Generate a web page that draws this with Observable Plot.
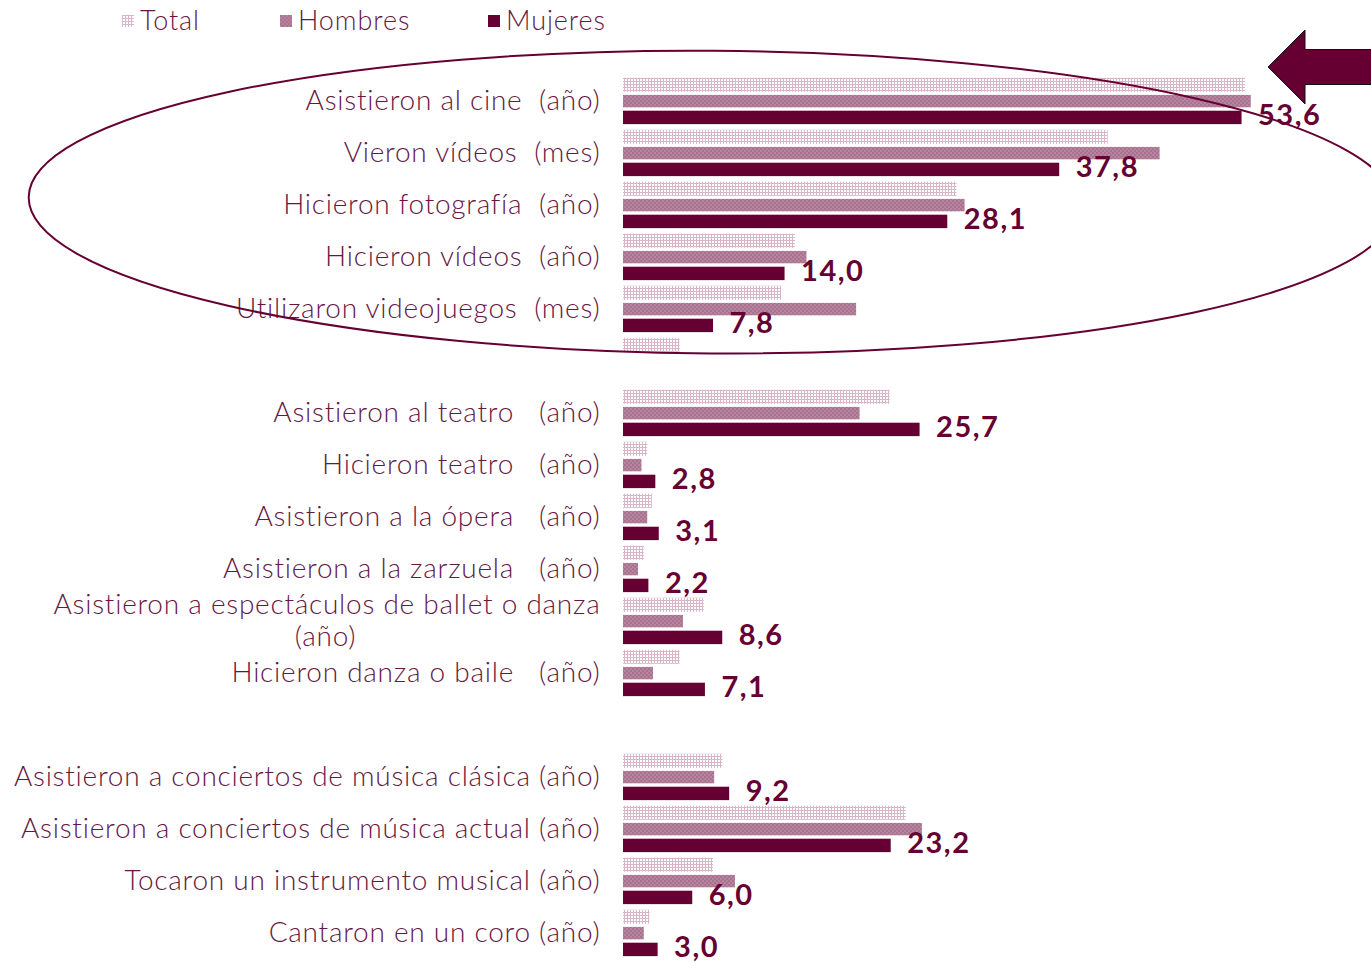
<!DOCTYPE html>
<html><head><meta charset="utf-8">
<script src="https://cdn.jsdelivr.net/npm/d3@7"></script>
<script src="https://cdn.jsdelivr.net/npm/@observablehq/plot@0.6"></script>
<style>
html,body{margin:0;padding:0;background:#fff;}
#wrap{position:relative;width:1371px;height:963px;overflow:hidden;}
#legend{position:absolute;left:0;top:0;height:40px;width:700px;font-family:Lato,sans-serif;font-weight:300;font-size:27px;letter-spacing:0.9px;color:#651843;}
.item{position:absolute;top:5px;height:30px;line-height:30px;white-space:nowrap;}
.item svg{vertical-align:middle;margin-right:6px;position:relative;top:-2px}
#chart svg text{white-space:pre;}
#chart svg .lab text{letter-spacing:0.75px;}
#chart svg .val text{letter-spacing:1.5px;}
</style></head><body>
<svg width="0" height="0" style="position:absolute">
<defs>
<pattern id="pTotal" width="3" height="3" patternUnits="userSpaceOnUse">
 <rect width="3" height="3" fill="#ffffff"/>
 <rect width="3" height="1" fill="#d9b6c7"/>
 <rect width="1" height="3" fill="#d9b6c7"/>
</pattern>
<pattern id="pHombres" width="4" height="4" patternUnits="userSpaceOnUse">
 <rect width="4" height="4" fill="#b7849f"/>
 <rect width="2" height="2" fill="#a9728f"/>
 <rect x="2" y="2" width="2" height="2" fill="#a9728f"/>
</pattern>
</defs></svg>
<div id="wrap"><div id="chart"></div><div id="legend"></div></div>
<script>
const categories = [
  "Asistieron al cine  (año)",
  "Vieron vídeos  (mes)",
  "Hicieron fotografía  (año)",
  "Hicieron vídeos  (año)",
  "Utilizaron videojuegos  (mes)",
  "",
  "Asistieron al teatro   (año)",
  "Hicieron teatro   (año)",
  "Asistieron a la ópera   (año)",
  "Asistieron a la zarzuela   (año)",
  "Asistieron a espectáculos de ballet o danza\n(año)",
  "Hicieron danza o baile   (año)",
  " ",
  "Asistieron a conciertos de música clásica (año)",
  "Asistieron a conciertos de música actual (año)",
  "Tocaron un instrumento musical (año)",
  "Cantaron en un coro (año)"
];
const total   = [53.9, 42.0, 28.9, 14.9, 13.7, 4.9, 23.1, 2.1, 2.5, 1.8, 7.0, 4.9, null, 8.6, 24.5, 7.8, 2.3];
const hombres = [54.4, 46.5, 29.6, 15.9, 20.2, null, 20.5, 1.6, 2.1, 1.3, 5.2, 2.6, null, 7.9, 25.9, 9.7, 1.8];
const mujeres = [53.6, 37.8, 28.1, 14.0, 7.8, null, 25.7, 2.8, 3.1, 2.2, 8.6, 7.1, null, 9.2, 23.2, 6.0, 3.0];
const seriesNames = ["Total", "Hombres", "Mujeres"];

const MAROON = "#660033";
const TEXT = "#651843";
const FILLS = {Total: "url(#pTotal)", Hombres: "url(#pHombres)", Mujeres: MAROON};

const rows = categories.map((c, i) => ({cat: c, t: total[i], h: hombres[i], m: mujeres[i]}));
const single = rows.filter(d => !d.cat.includes("\n"));
const multi = rows.filter(d => d.cat.includes("\n"));

const BW = 887 / categories.length;

const plot = Plot.plot({
  width: 1371,
  height: 963,
  marginLeft: 623,
  marginRight: 0,
  marginTop: 73,
  marginBottom: 3,
  x: {domain: [0, 748 / 11.54], axis: null},
  y: {domain: categories, axis: null, padding: 0},
  style: {fontFamily: "Lato, sans-serif", background: "transparent", overflow: "visible"},
  marks: [
    Plot.barX(rows.filter(d => d.t != null), {x: "t", y: "cat", fill: FILLS.Total, insetTop: 2.7, insetBottom: BW - 17}),
    Plot.barX(rows.filter(d => d.h != null), {x: "h", y: "cat", fill: FILLS.Hombres, insetTop: 19.9, insetBottom: BW - 32.5}),
    Plot.barX(rows.filter(d => d.m != null), {x: "m", y: "cat", fill: FILLS.Mujeres, insetTop: 35.7, insetBottom: BW - 49.3}),
    Plot.text(single, {y: "cat", text: "cat", frameAnchor: "left", textAnchor: "end", dx: -23, fontSize: 28, fontWeight: 300, fill: TEXT, className: "lab"}),
    Plot.text(multi, {y: "cat", text: d => d.cat.split("\n")[0], frameAnchor: "left", textAnchor: "end", dx: -23, dy: -16, fontSize: 28, fontWeight: 300, fill: TEXT, className: "lab"}),
    Plot.text(multi, {y: "cat", text: d => d.cat.split("\n")[1], frameAnchor: "left", textAnchor: "middle", dx: -298, dy: 16, fontSize: 28, fontWeight: 300, fill: TEXT, className: "lab"}),
    Plot.text(rows.filter(d => d.m != null), {x: "m", y: "cat", text: d => d.m.toFixed(1).replace(".", ","), textAnchor: "start", dx: 16, dy: 14, fontSize: 29, fontWeight: "bold", fill: MAROON, className: "val"})
  ]
});
document.getElementById("chart").appendChild(plot);

// annotations: ellipse around the first group and arrow pointing to the first row
const xs = plot.scale("x"), ys = plot.scale("y");
const svg = d3.select(plot);
const cy = ys.apply(categories[2]) + BW / 2 - 3;
const cx = xs.apply(7.7);
const rx = xs.apply(59.2) - xs.apply(0);
const ry = 2.9 * BW;
svg.append("ellipse")
  .attr("cx", cx).attr("cy", cy).attr("rx", rx).attr("ry", ry)
  .attr("transform", `rotate(0.4 ${cx} ${cy})`)
  .attr("fill", "none").attr("stroke", MAROON).attr("stroke-width", 2);

const tipX = xs.apply(55.9), headX = xs.apply(59.1), endX = xs.apply(70);
const tipY = ys.apply(categories[0]) - 8;
svg.append("path")
  .attr("d", `M${tipX},${tipY} L${headX},${tipY - 37} L${headX},${tipY - 17.5} L${endX},${tipY - 17.5} L${endX},${tipY + 17.5} L${headX},${tipY + 17.5} L${headX},${tipY + 37} Z`)
  .attr("fill", MAROON).attr("stroke", "#111").attr("stroke-width", 1);

// legend
const legendLeft = [122, 280, 488];
const legend = d3.select("#legend");
seriesNames.forEach((s, i) => {
  const item = legend.append("div").attr("class", "item").style("left", legendLeft[i] + "px");
  const sw = item.append("svg").attr("width", 12).attr("height", 12);
  sw.append("rect").attr("width", 12).attr("height", 12).attr("fill", FILLS[s]);
  item.append("span").text(s);
});
</script>
</body></html>
